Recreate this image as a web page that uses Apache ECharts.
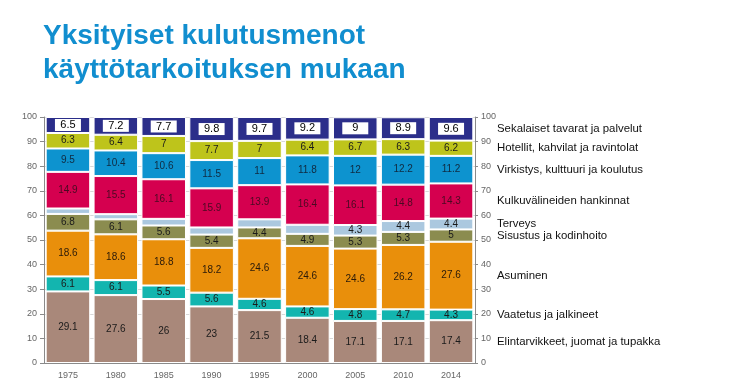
<!DOCTYPE html>
<html>
<head>
<meta charset="utf-8">
<script src="https://cdn.jsdelivr.net/npm/echarts@6/dist/echarts.min.js"></script>
<style>
html,body{margin:0;padding:0;background:#fff;}
#chart{width:745px;height:392px;}
</style>
</head>
<body>
<div id="chart"></div>
<script>
var titleText = 'Yksityiset kulutusmenot\nkäyttötarkoituksen mukaan';
var years = ['1975','1980','1985','1990','1995','2000','2005','2010','2014'];
var seriesNames = [
  'Elintarvikkeet, juomat ja tupakka',
  'Vaatetus ja jalkineet',
  'Asuminen',
  'Sisustus ja kodinhoito',
  'Terveys',
  'Kulkuvälineiden hankinnat',
  'Virkistys, kulttuuri ja koulutus',
  'Hotellit, kahvilat ja ravintolat',
  'Sekalaiset tavarat ja palvelut'
];
var elintarvikkeet = [29.1, 27.6, 26, 23, 21.5, 18.4, 17.1, 17.1, 17.4];
var vaatetus       = [6.1, 6.1, 5.5, 5.6, 4.6, 4.6, 4.8, 4.7, 4.3];
var asuminen       = [18.6, 18.6, 18.8, 18.2, 24.6, 24.6, 24.6, 26.2, 27.6];
var sisustus       = [6.8, 6.1, 5.6, 5.4, 4.4, 4.9, 5.3, 5.3, 5];
var terveys        = [2.2, 2.1, 2.7, 2.9, 3.3, 3.7, 4.3, 4.4, 4.4];
var kulkuvalineet  = [14.9, 15.5, 16.1, 15.9, 13.9, 16.4, 16.1, 14.8, 14.3];
var virkistys      = [9.5, 10.4, 10.6, 11.5, 11, 11.8, 12, 12.2, 11.2];
var hotellit       = [6.3, 6.4, 7, 7.7, 7, 6.4, 6.7, 6.3, 6.2];
var sekalaiset     = [6.5, 7.2, 7.7, 9.8, 9.7, 9.2, 9, 8.9, 9.6];
// which Terveys values carry a printed label in the original
var terveysLabelShown = [false, false, false, false, false, false, true, true, true];
var yTicks = [0, 10, 20, 30, 40, 50, 60, 70, 80, 90, 100];

var allData = [elintarvikkeet, vaatetus, asuminen, sisustus, terveys, kulkuvalineet, virkistys, hotellit, sekalaiset];
var colors = ['#a9887a', '#13b5af', '#e98f0b', '#8b8c4f', '#abc8df', '#d5004f', '#0d93cf', '#bec41b', '#2b2e8a'];
var labelColors = ['#1a1a1a', '#1a1a1a', '#2a1a0a', '#1a1a1a', '#1a1a1a', '#4a0a22', '#102a40', '#1a1a1a', '#000'];

var chart = echarts.init(document.getElementById('chart'), null, {renderer: 'canvas'});

var series = allData.map(function (arr, si) {
  var isTop = si === allData.length - 1;
  return {
    name: seriesNames[si],
    type: 'bar',
    stack: 'total',
    barCategoryGap: '7%',
    data: arr.map(function (v, i) {
      var d = {value: v};
      if (si === 4 && !terveysLabelShown[i]) d.label = {show: false};
      return d;
    }),
    itemStyle: {color: colors[si], borderColor: '#ffffff', borderWidth: 1},
    label: isTop ? {
      show: true, position: 'inside', color: '#000', fontSize: 11,
      fontFamily: 'Liberation Sans, Arial, sans-serif',
      backgroundColor: '#ffffff', padding: [1, 5, 0, 5], width: 16, align: 'center'
    } : {
      show: true, position: 'inside', color: labelColors[si], fontSize: 10,
      fontFamily: 'Liberation Sans, Arial, sans-serif'
    },
    emphasis: {disabled: true}
  };
});

var axisLabelStyle = {color: '#666', fontSize: 9, fontFamily: 'Liberation Sans, Arial, sans-serif'};

chart.setOption({
  animation: false,
  backgroundColor: '#ffffff',
  title: {
    text: titleText,
    left: 38, top: 14,
    textStyle: {
      color: '#118ecf', fontSize: 28, fontWeight: 'bold', lineHeight: 34,
      fontFamily: 'Liberation Sans, Arial, sans-serif'
    }
  },
  grid: {left: 44, right: 270, top: 117, bottom: 29, containLabel: false},
  xAxis: {
    type: 'category', data: years,
    axisLine: {lineStyle: {color: '#8a8a8a'}},
    axisTick: {alignWithLabel: true, length: 4, lineStyle: {color: '#8a8a8a'}},
    axisLabel: Object.assign({margin: 8}, axisLabelStyle)
  },
  yAxis: [{
    type: 'value', min: 0, max: 100, interval: 10,
    axisLine: {show: true, lineStyle: {color: '#8a8a8a'}},
    axisTick: {show: true, length: 4, lineStyle: {color: '#8a8a8a'}},
    axisLabel: Object.assign({margin: 7}, axisLabelStyle),
    splitLine: {show: true, lineStyle: {color: '#d8d8d8', width: 1}}
  }, {
    type: 'value', min: 0, max: 100, interval: 10, position: 'right',
    axisLine: {show: true, lineStyle: {color: '#8a8a8a'}},
    axisTick: {show: true, length: 3, lineStyle: {color: '#8a8a8a'}},
    axisLabel: Object.assign({margin: 6}, axisLabelStyle),
    splitLine: {show: false}
  }],
  series: series
});

// Right-hand category labels, centred on the last bar's segments
function placeSideLabels() {
  var last = years.length - 1;
  var xLast = chart.convertToPixel({xAxisIndex: 0}, years[last]);
  var xPrev = chart.convertToPixel({xAxisIndex: 0}, years[last - 1]);
  var band = xLast - xPrev;
  var x0 = xLast + band / 2 + 22;
  var cum = 0;
  var els = [];
  allData.forEach(function (arr, si) {
    var v = arr[last];
    var mid = cum + v / 2;
    cum += v;
    var y = chart.convertToPixel({yAxisIndex: 0}, mid);
    els.push({
      type: 'text', x: x0, y: y,
      style: {
        text: seriesNames[si], fill: '#111',
        font: '11.4px "Liberation Sans", Arial, sans-serif',
        textVerticalAlign: 'middle', verticalAlign: 'middle', textAlign: 'left'
      }
    });
  });
  chart.setOption({graphic: els});
}
placeSideLabels();
</script>
</body>
</html>
